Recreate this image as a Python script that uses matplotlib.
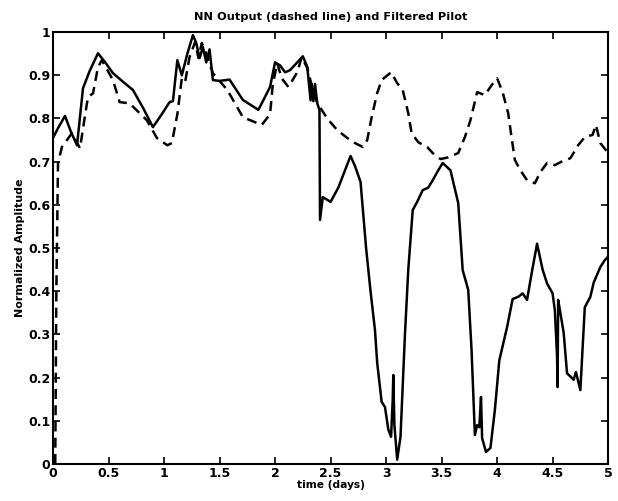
import matplotlib
matplotlib.use("Agg")
import matplotlib.pyplot as plt
from matplotlib.ticker import FuncFormatter

# filtered pilot (solid)
pilot_t = [0.0, 0.05, 0.108, 0.16, 0.216, 0.27, 0.33, 0.405, 0.47, 0.54, 0.63, 0.72, 0.81, 0.90,
           0.98, 1.05, 1.08, 1.12, 1.16, 1.21, 1.26, 1.29, 1.32, 1.35, 1.38, 1.41, 1.44, 1.5,
           1.59, 1.71, 1.85, 1.955, 2.0, 2.045, 2.09, 2.135, 2.2, 2.25, 2.29, 2.32, 2.33,
           2.345, 2.36, 2.38, 2.40, 2.405, 2.43, 2.5, 2.57, 2.63, 2.68, 2.72, 2.77, 2.82,
           2.86, 2.90, 2.92, 2.96, 2.99, 3.02, 3.045, 3.06, 3.065, 3.075, 3.10, 3.13, 3.17,
           3.2, 3.24, 3.28, 3.33, 3.38, 3.42, 3.47, 3.51, 3.58, 3.65, 3.69, 3.74, 3.77,
           3.80, 3.82, 3.84, 3.855, 3.865, 3.90, 3.94, 3.98, 4.02, 4.09, 4.14, 4.19, 4.23,
           4.27, 4.31, 4.36, 4.41, 4.45, 4.50, 4.52, 4.54, 4.545, 4.55, 4.57, 4.60, 4.63,
           4.69, 4.71, 4.75, 4.79, 4.84, 4.87, 4.93, 4.97, 5.0]
pilot_y = [0.755, 0.78, 0.806, 0.77, 0.738, 0.87, 0.91, 0.951, 0.93, 0.905, 0.885, 0.866, 0.825, 0.78,
           0.81, 0.838, 0.84, 0.935, 0.90, 0.95, 0.993, 0.975, 0.94, 0.965, 0.93, 0.96, 0.889, 0.887,
           0.89, 0.843, 0.82, 0.873, 0.93, 0.923, 0.907, 0.912, 0.93, 0.944, 0.92, 0.842, 0.88,
           0.84, 0.88, 0.835, 0.82, 0.565, 0.618, 0.607, 0.64, 0.68, 0.713, 0.69, 0.653, 0.50,
           0.40, 0.31, 0.234, 0.144, 0.132, 0.08, 0.063, 0.15, 0.206, 0.09, 0.01, 0.063, 0.30,
           0.45, 0.588, 0.607, 0.634, 0.64, 0.657, 0.68, 0.697, 0.68, 0.604, 0.449, 0.403, 0.264,
           0.067, 0.09, 0.085, 0.155, 0.06, 0.028, 0.037, 0.125, 0.24, 0.317, 0.382, 0.387, 0.395,
           0.38, 0.44, 0.51, 0.45, 0.418, 0.395, 0.356, 0.25, 0.178, 0.38, 0.35, 0.303, 0.21,
           0.195, 0.213, 0.171, 0.363, 0.387, 0.42, 0.456, 0.472, 0.48]

# NN output (dashed)
nn_t = [0.02, 0.03, 0.045, 0.08, 0.17, 0.243, 0.29, 0.315, 0.36, 0.405, 0.44, 0.54, 0.60, 0.69,
        0.845, 0.935, 1.03, 1.07, 1.12, 1.16, 1.19, 1.23, 1.28, 1.31, 1.34, 1.38, 1.44, 1.57,
        1.71, 1.88, 1.955, 1.98, 2.02, 2.06, 2.12, 2.2, 2.24, 2.29, 2.36, 2.41, 2.47, 2.56,
        2.65, 2.72, 2.79, 2.83, 2.87, 2.92, 2.96, 3.045, 3.10, 3.15, 3.2, 3.23, 3.29, 3.37,
        3.42, 3.49, 3.56, 3.65, 3.71, 3.76, 3.82, 3.89, 3.95, 4.0, 4.05, 4.10, 4.13, 4.16,
        4.21, 4.27, 4.34, 4.39, 4.45, 4.52, 4.58, 4.66, 4.73, 4.79, 4.86, 4.89, 4.93, 4.97, 5.0]
nn_y = [0.0, 0.40, 0.697, 0.734, 0.766, 0.731, 0.81, 0.85, 0.858, 0.919, 0.935, 0.889, 0.838, 0.835,
        0.796, 0.755, 0.738, 0.743, 0.81, 0.893, 0.885, 0.942, 0.977, 0.94, 0.975, 0.95, 0.905, 0.866,
        0.803, 0.785, 0.81, 0.88, 0.928, 0.893, 0.873, 0.907, 0.942, 0.917, 0.847, 0.824, 0.80, 0.773,
        0.755, 0.743, 0.734, 0.75, 0.803, 0.859, 0.889, 0.907, 0.882, 0.866, 0.812, 0.766, 0.745, 0.734,
        0.72, 0.706, 0.71, 0.72, 0.757, 0.796, 0.861, 0.854, 0.877, 0.893, 0.861, 0.812, 0.757, 0.704,
        0.68, 0.657, 0.65, 0.676, 0.697, 0.692, 0.70, 0.708, 0.738, 0.757, 0.762, 0.785, 0.743, 0.73, 0.72]

x_ticks = [0, 0.5, 1, 1.5, 2, 2.5, 3, 3.5, 4, 4.5, 5]
y_ticks = [0, 0.1, 0.2, 0.3, 0.4, 0.5, 0.6, 0.7, 0.8, 0.9, 1]

plt.rcParams['font.family'] = ['DejaVu Sans']

fig = plt.figure(figsize=(6.18, 5.01), dpi=100)
ax = fig.add_axes([0.0858, 0.0739, 0.8982, 0.862])

ax.plot(pilot_t, pilot_y, color='black', lw=1.8)
ax.plot(nn_t, nn_y, color='black', lw=1.8, dashes=(4, 2.5))

ax.set_xlim(0, 5)
ax.set_ylim(0, 1)
ax.set_xticks(x_ticks)
ax.set_yticks(y_ticks)
fmt = FuncFormatter(lambda v, p: '%g' % v)
ax.xaxis.set_major_formatter(fmt)
ax.yaxis.set_major_formatter(fmt)
ax.tick_params(direction='in', top=True, right=True, length=5, width=1.2,
               labelsize=9, pad=2)
for lab in ax.get_xticklabels() + ax.get_yticklabels():
    lab.set_fontweight('bold')
for s in ax.spines.values():
    s.set_linewidth(1.5)

ax.set_title('NN Output (dashed line) and Filtered Pilot', fontsize=8.2,
             fontweight='bold', pad=9)
ax.set_xlabel('time (days)', fontsize=7.7, fontweight='bold', labelpad=0)
ax.set_ylabel('Normalized Amplitude', fontsize=8, fontweight='bold', labelpad=2)

fig.savefig('out.png', dpi=100)
